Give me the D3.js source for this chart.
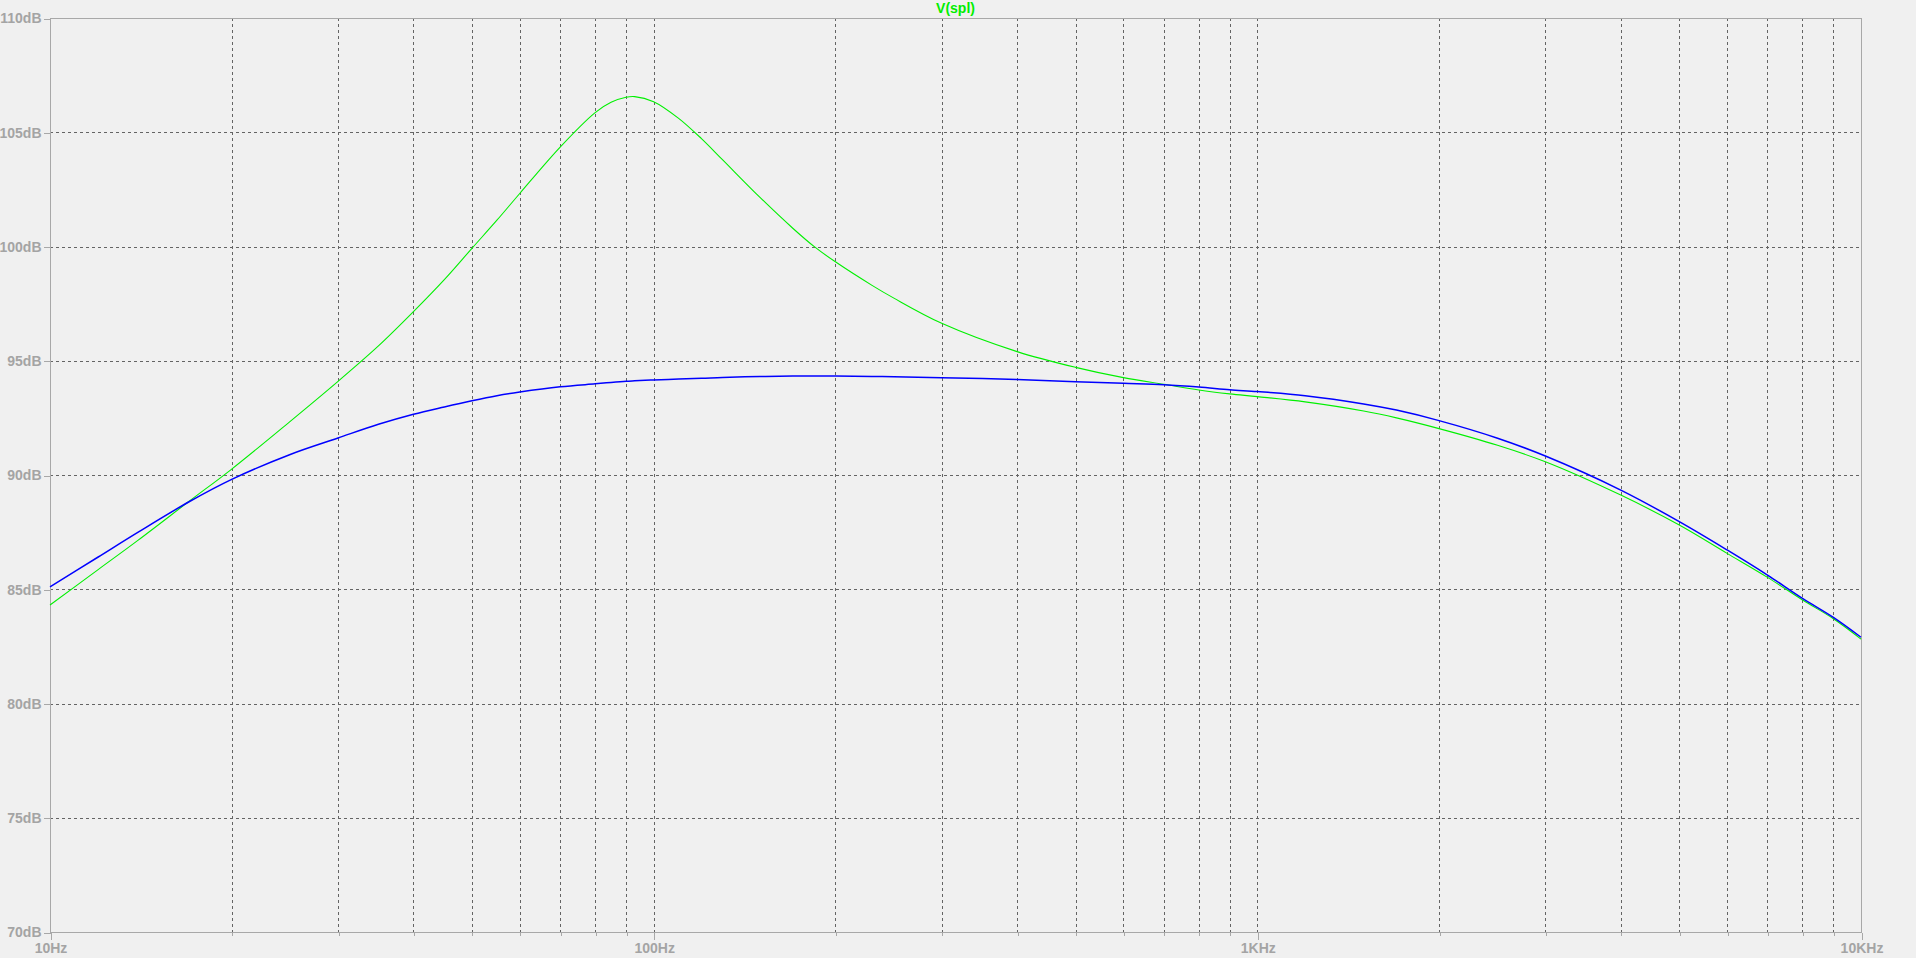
<!DOCTYPE html>
<html>
<head>
<meta charset="utf-8">
<script src="https://cdn.jsdelivr.net/npm/d3@7"></script>
<style>
  html, body { margin: 0; padding: 0; background: #f0f0f0; }
  svg { display: block; }
  text { font-family: "Liberation Sans", Arial, sans-serif; font-weight: bold; }
</style>
</head>
<body>
<svg id="chart" width="1916" height="958"></svg>
<script>
// ---- data ----
const title = "V(spl)";
const freqs = [10,12,14,17,20,25,30,35,40,45,50,55,60,70,80,85,90,93,100,110,120,130,150,170,185,200,230,250,300,400,500,600,700,800,900,1000,1200,1500,1700,2000,2500,3000,4000,5000,6000,7000,8000,9000,10000];
const splGreen = [84.31,85.85,87.15,88.85,90.26,92.35,94.1,95.65,97.15,98.55,99.92,101.15,102.32,104.35,105.86,106.31,106.53,106.56,106.34,105.61,104.72,103.8,102.15,100.8,99.97,99.33,98.3,97.74,96.64,95.40,94.71,94.26,93.97,93.72,93.55,93.43,93.2,92.8,92.5,92.03,91.3,90.58,89.12,87.81,86.57,85.52,84.53,83.71,82.82];
const splBlue = [85.1,86.4,87.5,88.83,89.81,90.9,91.62,92.22,92.66,92.98,93.25,93.47,93.63,93.86,93.99,94.05,94.10,94.12,94.16,94.2,94.23,94.27,94.31,94.33,94.33,94.33,94.31,94.30,94.26,94.18,94.08,94.01,93.95,93.85,93.73,93.65,93.47,93.11,92.84,92.38,91.61,90.83,89.34,87.96,86.72,85.62,84.60,83.77,82.90];
const yTicks = [70,75,80,85,90,95,100,105,110];
const yTickLabels = ["70dB","75dB","80dB","85dB","90dB","95dB","100dB","105dB","110dB"];
const xMajor = [10,100,1000,10000];
const xMajorLabels = ["10Hz","100Hz","1KHz","10KHz"];
const xMinor = [20,30,40,50,60,70,80,90,200,300,400,500,600,700,800,900,2000,3000,4000,5000,6000,7000,8000,9000];

// ---- layout ----
const L = 50, R = 1861, T = 18, B = 932;
const svg = d3.select("#chart");
svg.append("rect").attr("width",1916).attr("height",958).attr("fill","#f0f0f0");

const x = d3.scaleLog().domain([10,10000]).range([L,R]);
const y = d3.scaleLinear().domain([70,110]).range([B,T]);

const gridColor = "#646464", frameColor = "#a8a8a8", labelColor = "#a4a4a4";

// grid
const grid = svg.append("g").attr("shape-rendering","crispEdges");
grid.selectAll("line.v").data(xMinor.concat([100,1000])).join("line")
  .attr("x1", d => Math.round(x(d))+0.5).attr("x2", d => Math.round(x(d))+0.5)
  .attr("y1", T).attr("y2", B)
  .attr("stroke", gridColor).attr("stroke-dasharray","3,3");
grid.selectAll("line.h").data(yTicks.filter(d => d>70 && d<110)).join("line")
  .attr("y1", d => Math.round(y(d))+0.5).attr("y2", d => Math.round(y(d))+0.5)
  .attr("x1", L).attr("x2", R)
  .attr("stroke", gridColor).attr("stroke-dasharray","3,3");

// frame
svg.append("rect").attr("x",L+0.5).attr("y",T+0.5).attr("width",R-L).attr("height",B-T)
  .attr("fill","none").attr("stroke",frameColor).attr("stroke-width",1).attr("shape-rendering","crispEdges");

// axes
const yAxis = d3.axisLeft(y).tickValues(yTicks).tickFormat((d,i)=>yTickLabels[i]).tickSize(7).tickPadding(2);
const gy = svg.append("g").attr("transform",`translate(${L+0.5},0.5)`).call(yAxis);
gy.select(".domain").remove();
gy.selectAll("line").attr("stroke",frameColor).attr("shape-rendering","crispEdges");
gy.selectAll("text").attr("fill",labelColor).style("font-size","14px").style("font-family","'Liberation Sans', Arial, sans-serif").style("font-weight","bold");

const xAxis = d3.axisBottom(x).tickValues(xMajor).tickFormat((d,i)=>xMajorLabels[i]).tickSize(7).tickPadding(4);
const gx = svg.append("g").attr("transform",`translate(0.5,${B+0.5})`).call(xAxis);
gx.select(".domain").remove();
gx.selectAll("line").attr("stroke",frameColor).attr("shape-rendering","crispEdges");
gx.selectAll("text").attr("fill",labelColor).style("font-size","14px").style("font-family","'Liberation Sans', Arial, sans-serif").style("font-weight","bold");

const xAxisMinor = d3.axisBottom(x).tickValues(xMinor).tickFormat("").tickSize(3);
const gxm = svg.append("g").attr("transform",`translate(0.5,${B+0.5})`).call(xAxisMinor);
gxm.select(".domain").remove();
gxm.selectAll("line").attr("stroke",frameColor).attr("shape-rendering","crispEdges");

// curves
const line = d3.line().x(d => x(d[0])).y(d => y(d[1])).curve(d3.curveCatmullRom.alpha(0.5));
svg.append("path").datum(freqs.map((f,i)=>[f,splGreen[i]]))
  .attr("d", line).attr("fill","none").attr("stroke","#00f000").attr("stroke-width",1.1);
svg.append("path").datum(freqs.map((f,i)=>[f,splBlue[i]]))
  .attr("d", line).attr("fill","none").attr("stroke","#0000ff").attr("stroke-width",1.5);

// title
svg.append("text").attr("x",(L+R)/2).attr("y",13).attr("text-anchor","middle")
  .attr("fill","#00ee00").style("font-size","14px").text(title);
</script>
</body>
</html>
